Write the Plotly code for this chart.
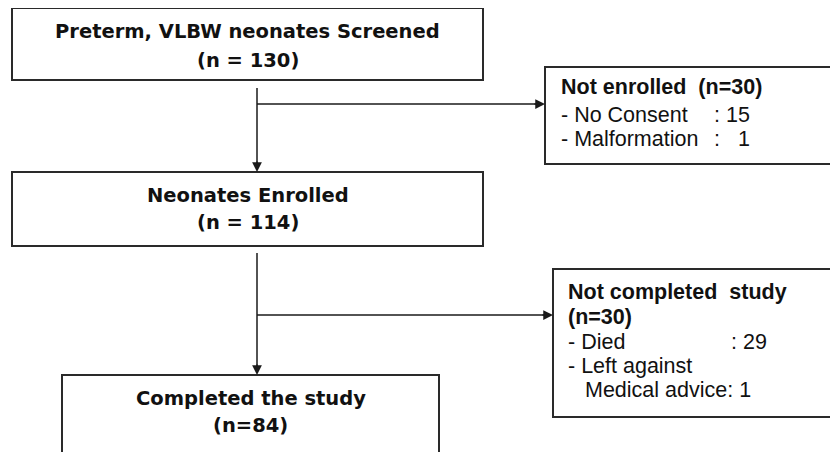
import plotly.graph_objects as go

# ---- data ----
main_labels = ["Preterm, VLBW neonates Screened", "Neonates Enrolled", "Completed the study"]
main_counts = ["(n = 130)", "(n = 114)", "(n=84)"]
excl_titles = [["Not enrolled  (n=30)"], ["Not completed  study", "(n=30)"]]
excl1_items = ["- No Consent", "- Malformation"]
excl1_values = [": 15", ":   1"]
excl2_items = ["- Died", "- Left against", "Medical advice: 1"]
excl2_values = [": 29", "", ""]

# ---- layout geometry (page pixels) ----
W, H = 838, 452
OFF = 8  # default page body margin
main_boxes = [(12, 483, 8, 80), (12, 483, 172, 246), (62, 439, 375, 470)]
main_text_y = [(31, 60), (195, 222), (398, 425)]
excl_boxes = [(545, 850, 67, 164), (553, 831, 269, 417)]
LINE = "#1a1a1a"
BORDER = "#2a2a2a"

fig = go.Figure()
shapes = []
ann = []

for (x0, x1, y0, y1) in main_boxes + excl_boxes:
    shapes.append(dict(type="rect", xref="x", yref="y", x0=x0, x1=x1, y0=y0, y1=y1,
                       line=dict(color=BORDER, width=2), fillcolor="white", layer="below"))

BOLDL = dict(family="DejaVu Sans", size=19.5, color="#111111", weight="bold")
for (x0, x1, y0, y1), lab, cnt, (ya, yb) in zip(main_boxes, main_labels, main_counts, main_text_y):
    cx = (x0 + x1) / 2
    ann.append(dict(x=cx, y=ya, xref="x", yref="y", text="<b>%s</b>" % lab, showarrow=False,
                    font=BOLDL, xanchor="center", yanchor="middle"))
    ann.append(dict(x=cx, y=yb, xref="x", yref="y", text="<b>%s</b>" % cnt, showarrow=False,
                    font=BOLDL, xanchor="center", yanchor="middle"))

AR = dict(family="Liberation Sans, Arial", size=21.5, color="#111111")


def txt(x, y, s, bold=False):
    ann.append(dict(x=x, y=y, xref="x", yref="y", text=("<b>%s</b>" % s) if bold else s,
                    showarrow=False, font=AR, xanchor="left", yanchor="middle",
                    borderpad=0))


# Exclusion box 1
txt(560, 87, excl_titles[0][0], bold=True)
for it, v, yy in zip(excl1_items, excl1_values, [115, 139]):
    txt(560, yy, it)
    txt(713, yy, v)

# Exclusion box 2
txt(567, 292, excl_titles[1][0], bold=True)
txt(567, 317, excl_titles[1][1], bold=True)
for it, v, (xx, yy) in zip(excl2_items, excl2_values, [(567, 342), (567, 366), (584, 390)]):
    txt(xx, yy, it)
    if v:
        txt(730, yy, v)

# Connectors
cx = 257
shapes.append(dict(type="line", xref="x", yref="y", x0=cx, x1=cx, y0=88, y1=165, line=dict(color=LINE, width=1.5)))
shapes.append(dict(type="line", xref="x", yref="y", x0=cx, x1=538, y0=104, y1=104, line=dict(color=LINE, width=1.5)))
shapes.append(dict(type="line", xref="x", yref="y", x0=cx, x1=cx, y0=253, y1=368, line=dict(color=LINE, width=1.5)))
shapes.append(dict(type="line", xref="x", yref="y", x0=cx, x1=546, y0=315, y1=315, line=dict(color=LINE, width=1.5)))

for (tx, ty, fx, fy) in [(cx, 172, cx, 160), (545, 104, 533, 104), (cx, 375, cx, 363), (553, 315, 541, 315)]:
    ann.append(dict(x=tx, y=ty, ax=fx, ay=fy, xref="x", yref="y", axref="x", ayref="y", text="",
                    showarrow=True, arrowhead=2, arrowsize=1.3, arrowwidth=1.5, arrowcolor=LINE))

fig.update_layout(
    width=W, height=H, margin=dict(l=0, r=0, t=0, b=0),
    paper_bgcolor="white", plot_bgcolor="white",
    xaxis=dict(range=[OFF, W + OFF], visible=False, fixedrange=True),
    yaxis=dict(range=[H + OFF, OFF], visible=False, fixedrange=True),
    shapes=shapes, annotations=ann, showlegend=False,
)
fig.write_html("out.html")
